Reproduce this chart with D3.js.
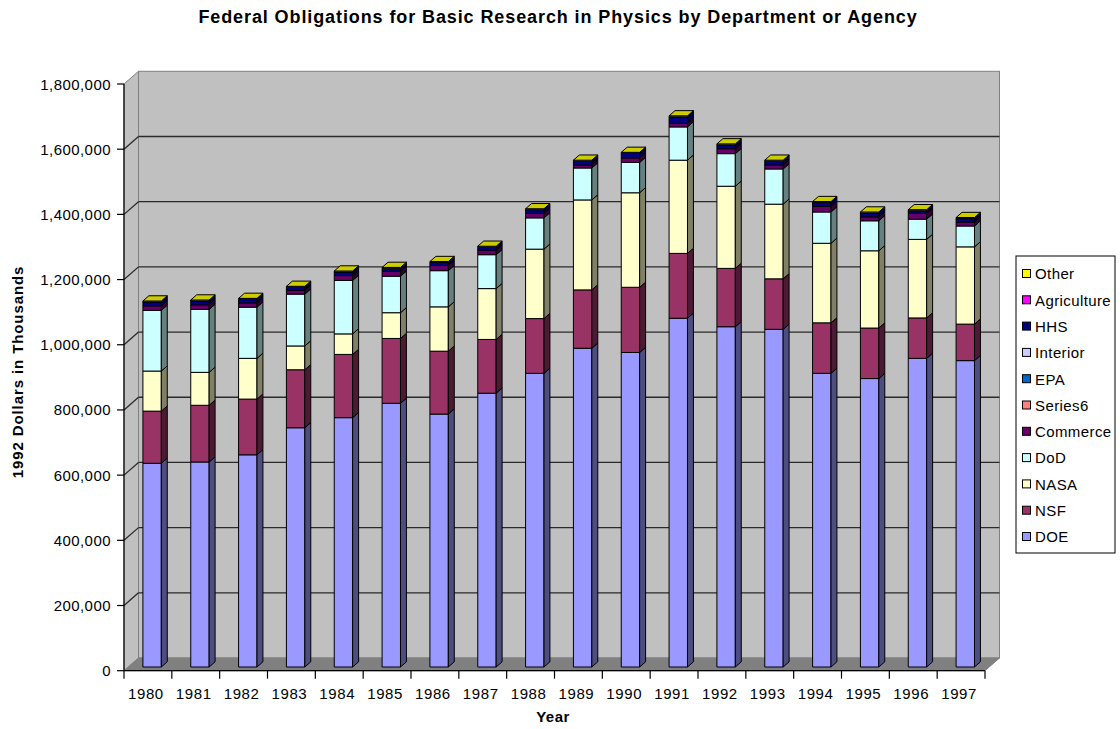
<!DOCTYPE html>
<html>
<head>
<meta charset="utf-8">
<script src="https://cdn.jsdelivr.net/npm/d3@7"></script>
<style>
  html, body { margin: 0; padding: 0; background: #ffffff; }
  svg { display: block; font-family: Arial, "Liberation Sans", sans-serif; }
</style>
</head>
<body>
<svg id="chart" width="1120" height="729"></svg>
<script>
// Federal obligations for basic research in physics, thousands of 1992 dollars
const years = ["1980","1981","1982","1983","1984","1985","1986","1987","1988",
               "1989","1990","1991","1992","1993","1994","1995","1996","1997"];

const DOE         = [625, 629, 651, 734, 765, 809, 776, 840, 901, 978, 965, 1070, 1044, 1036, 901, 885, 947, 940];
const NSF         = [160, 174, 171, 178, 194, 199, 193, 165, 168, 179, 200, 199, 179, 155, 155, 155, 124, 112];
const NASA        = [123, 101, 125, 73, 63, 79, 136, 156, 213, 276, 290, 286, 252, 229, 244, 237, 241, 237];
const DoD         = [186, 193, 157, 159, 164, 112, 111, 104, 96, 98, 93, 102, 100, 108, 96, 92, 62, 64];
const Commerce    = [14, 14, 13, 12, 15, 15, 16, 14, 14, 9, 14, 11, 15, 12, 17, 12, 18, 12];
const Series6     = [0, 0, 0, 0, 0, 0, 0, 0, 0, 0, 0, 0, 0, 0, 0, 0, 0, 0];
const EPA         = [0, 0, 0, 0, 0, 0, 0, 0, 0, 0, 0, 0, 0, 0, 0, 0, 0, 0];
const Interior    = [0, 0, 0, 0, 0, 0, 0, 0, 0, 0, 0, 0, 0, 0, 0, 0, 0, 0];
const HHS         = [12, 12, 11, 9, 11, 9, 9, 9, 11, 12, 14, 20, 12, 12, 12, 12, 8, 11];
const Agriculture = [0, 0, 0, 0, 0, 0, 0, 0, 0, 0, 0, 0, 0, 0, 0, 0, 0, 0];
const Other       = [3, 3, 3, 3, 3, 3, 3, 3, 3, 3, 3, 3, 3, 3, 3, 3, 3, 3];

const seriesNames = ["DOE","NSF","NASA","DoD","Commerce","Series6","EPA","Interior","HHS","Agriculture","Other"];
const seriesValues = [DOE, NSF, NASA, DoD, Commerce, Series6, EPA, Interior, HHS, Agriculture, Other];
const seriesColors = ["#9999FF","#993366","#FFFFCC","#CCFFFF","#660066","#FF8080","#0066CC","#CCCCFF","#000080","#FF00FF","#FFFF00"];

const yTicks = [0, 200000, 400000, 600000, 800000, 1000000, 1200000, 1400000, 1600000, 1800000];

// ---- layout of the 3-D box ----
const X0 = 124, X1 = 985;          // front floor edge
const Y0 = 670.7, Y1 = 84;         // front plane: value 0 and value max
const DX = 14.5, DY = 12.7;        // depth offset of the back wall
const BW = 18.4;                   // bar width
const zF = 0.29, zB = 0.70;        // bar depth span (fraction of box depth)

const svg = d3.select("#chart");

const x = d3.scaleBand().domain(years).range([X0, X1]).padding(0);
const y = d3.scaleLinear().domain([0, 1800000]).range([Y0, Y1]);
const fmt = d3.format(",");

const shade = (c, k) => { const r = d3.rgb(c); return d3.rgb(r.r * k, r.g * k, r.b * k).toString(); };
const pts = a => a.map(p => p.join(",")).join(" ");

// ---- walls and floor ----
const gWalls = svg.append("g");
// back wall
gWalls.append("rect")
  .attr("x", X0 + DX).attr("y", y(1800000) - DY)
  .attr("width", X1 - X0).attr("height", y(0) - y(1800000))
  .attr("fill", "#C0C0C0").attr("stroke", "#808080").attr("stroke-width", 1);
// left side wall
gWalls.append("polygon")
  .attr("points", pts([[X0, y(0)], [X0, y(1800000)], [X0 + DX, y(1800000) - DY], [X0 + DX, y(0) - DY]]))
  .attr("fill", "#C0C0C0").attr("stroke", "#808080").attr("stroke-width", 1);
// floor
gWalls.append("polygon")
  .attr("points", pts([[X0, y(0)], [X1, y(0)], [X1 + DX, y(0) - DY], [X0 + DX, y(0) - DY]]))
  .attr("fill", "#808080").attr("stroke", "#808080").attr("stroke-width", 1);

// gridlines on back wall and side wall
const gridVals = yTicks.filter(v => v > 0 && v < 1800000);
const gGrid = svg.append("g").attr("stroke", "#2a2a2a").attr("stroke-width", 1.3).attr("fill", "none");
gGrid.selectAll("line.back").data(gridVals).join("line")
  .attr("x1", X0 + DX).attr("x2", X1 + DX)
  .attr("y1", d => y(d) - DY).attr("y2", d => y(d) - DY);
gGrid.selectAll("line.side").data(gridVals).join("line")
  .attr("x1", X0).attr("x2", X0 + DX)
  .attr("y1", d => y(d)).attr("y2", d => y(d) - DY);

// ---- stacked 3-D columns ----
const rows = years.map((yr, i) => {
  const o = { year: yr };
  seriesNames.forEach((s, k) => { o[s] = seriesValues[k][i] * 1000; });
  return o;
});
const stacked = d3.stack().keys(seriesNames)(rows);

const ddx = (zB - zF) * DX, ddy = (zB - zF) * DY;
const gBars = svg.append("g").attr("stroke", "#000").attr("stroke-width", 1).attr("stroke-linejoin", "round");

years.forEach((yr, i) => {
  const xl = x(yr) + x.bandwidth() / 2 - BW / 2 + zF * DX;
  const xr = xl + BW;
  const segs = stacked.map((s, k) => ({ k, v0: s[i][0], v1: s[i][1] })).filter(d => d.v1 > d.v0);
  const g = gBars.append("g");
  segs.forEach((d, j) => {
    const col = seriesColors[d.k];
    const yt = y(d.v1) - zF * DY, yb = y(d.v0) - zF * DY;
    g.append("rect").attr("x", xl).attr("y", yt).attr("width", BW).attr("height", yb - yt).attr("fill", col);
    g.append("polygon")
      .attr("points", pts([[xr, yt], [xr + ddx, yt - ddy], [xr + ddx, yb - ddy], [xr, yb]]))
      .attr("fill", shade(col, 0.5));
    if (j === segs.length - 1) {
      g.append("polygon")
        .attr("points", pts([[xl, yt], [xr, yt], [xr + ddx, yt - ddy], [xl + ddx, yt - ddy]]))
        .attr("fill", shade(col, 0.8));
    }
  });
});

// ---- axes ----
const gAxis = svg.append("g").attr("stroke", "#000").attr("stroke-width", 1.2);
gAxis.append("line").attr("x1", X0).attr("x2", X0).attr("y1", y(0)).attr("y2", y(1800000));
gAxis.append("line").attr("x1", X0).attr("x2", X1).attr("y1", y(0)).attr("y2", y(0));
gAxis.selectAll("line.yt").data(yTicks).join("line")
  .attr("x1", X0 - 7).attr("x2", X0).attr("y1", d => y(d)).attr("y2", d => y(d));
const xBounds = years.map(d => x(d)).concat([X1]);
gAxis.selectAll("line.xt").data(xBounds).join("line")
  .attr("x1", d => d).attr("x2", d => d).attr("y1", y(0)).attr("y2", y(0) + 8);

svg.append("g").selectAll("text").data(yTicks).join("text")
  .attr("x", X0 - 13).attr("y", d => y(d) + 5.5)
  .attr("text-anchor", "end").attr("font-size", 15).attr("letter-spacing", 0.45).attr("fill", "#000")
  .text(d => fmt(d));

svg.append("g").selectAll("text").data(years).join("text")
  .attr("x", d => x(d) + x.bandwidth() / 2 - 2).attr("y", 698.5)
  .attr("text-anchor", "middle").attr("font-size", 15).attr("letter-spacing", 0.6).attr("fill", "#000")
  .text(d => d);

// ---- titles ----
svg.append("text").attr("x", 558).attr("y", 23).attr("text-anchor", "middle")
  .attr("font-size", 18).attr("letter-spacing", 0.9).attr("font-weight", "bold")
  .text("Federal Obligations for Basic Research in Physics by Department or Agency");
svg.append("text").attr("x", 553).attr("y", 722).attr("text-anchor", "middle")
  .attr("font-size", 15).attr("letter-spacing", 0.5).attr("font-weight", "bold").text("Year");
svg.append("text").attr("transform", "translate(23,372) rotate(-90)").attr("text-anchor", "middle")
  .attr("font-size", 15).attr("letter-spacing", 0.9).attr("font-weight", "bold").text("1992 Dollars in Thousands");

// ---- legend ----
const lg = svg.append("g");
lg.append("rect").attr("x", 1016).attr("y", 256).attr("width", 99).attr("height", 297)
  .attr("fill", "#fff").attr("stroke", "#000").attr("stroke-width", 1);
const legendOrder = seriesNames.map((s, k) => k).reverse();
const li = lg.selectAll("g.item").data(legendOrder).join("g")
  .attr("transform", (d, j) => `translate(0,${274 + j * 26.3})`);
li.append("rect").attr("x", 1022.5).attr("y", -4.5).attr("width", 8).attr("height", 8)
  .attr("fill", d => seriesColors[d]).attr("stroke", "#000").attr("stroke-width", 1);
li.append("text").attr("x", 1035).attr("y", 5.3).attr("font-size", 15).attr("letter-spacing", 0.4).attr("fill", "#000")
  .text(d => seriesNames[d]);
</script>
</body>
</html>
